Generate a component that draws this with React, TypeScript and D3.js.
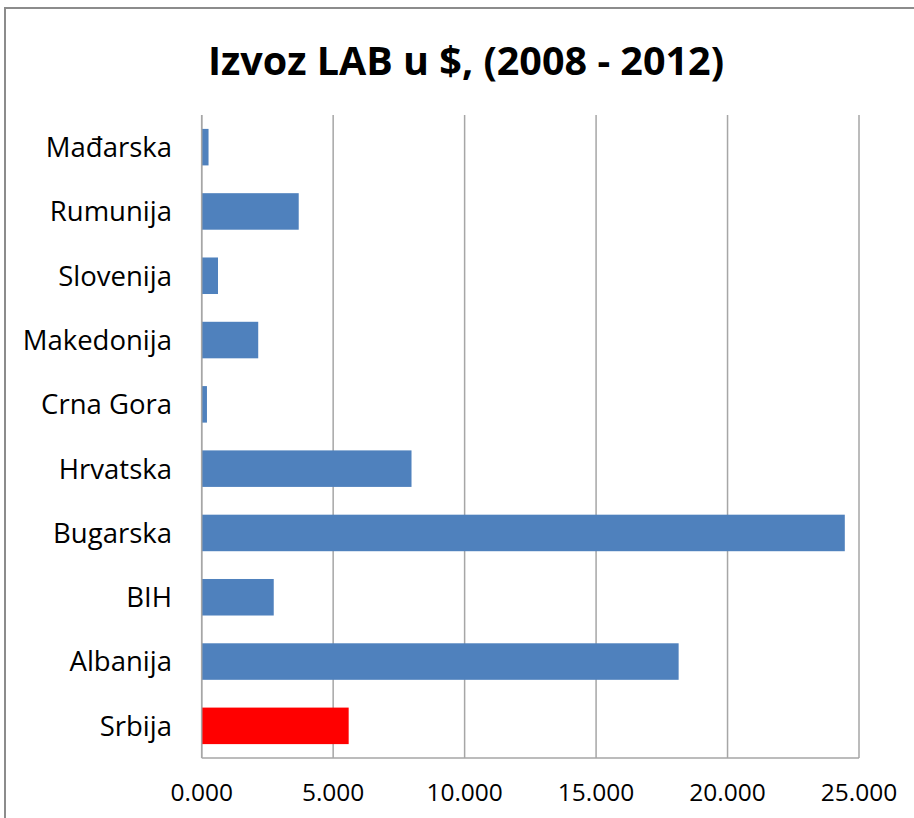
import React from "react";
import * as d3 from "d3";

const categories = ["Mađarska", "Rumunija", "Slovenija", "Makedonija", "Crna Gora", "Hrvatska", "Bugarska", "BIH", "Albanija", "Srbija"];
const values = [260, 3690, 620, 2150, 200, 7980, 24460, 2740, 18140, 5590];
const highlight = ["Srbija"];
const ticks = [0, 5000, 10000, 15000, 20000, 25000];
const tickLabels = ["0.000", "5.000", "10.000", "15.000", "20.000", "25.000"];
const title = "Izvoz LAB u $, (2008 - 2012)";

export default function App() {
  const W = 914, H = 818;
  const left = 201.7, right = 859, top = 115, bottom = 758;
  const x = d3.scaleLinear().domain([0, 25000]).range([left, right]);
  const y = d3.scaleBand<string>().domain(categories).range([top, bottom]).paddingInner(0.432).paddingOuter(0.216);
  const font = "'Open Sans', sans-serif";
  return (
    <svg width={W} height={H} style={{ position: "absolute", left: 0, top: 0, background: "#fff" }}>
      <rect x={0} y={0} width={W} height={H} fill="#fff" />
      <rect x={5} y={8} width={940} height={840} fill="none" stroke="#8c8c8c" strokeWidth={2} />
      <text x={466} y={75} textAnchor="middle" fontFamily={font} fontWeight={700} fontSize={39.5} fill="#000">{title}</text>
      {ticks.map((t, i) => (
        <line key={"g" + i} x1={x(t)} x2={x(t)} y1={top} y2={bottom} stroke="#a6a6a6" strokeWidth={1.5} />
      ))}
      <line x1={left} x2={right} y1={bottom} y2={bottom} stroke="#a6a6a6" strokeWidth={1.5} />
      {categories.map((c, i) => (
        <rect key={"b" + i} x={x(0)} y={y(c)!} width={x(values[i]) - x(0)} height={y.bandwidth()}
          fill={highlight.includes(c) ? "#ff0000" : "#4f81bd"} />
      ))}
      <line x1={left} x2={left} y1={top} y2={bottom} stroke="#a6a6a6" strokeWidth={1.5} />
      {categories.map((c, i) => (
        <text key={"l" + i} x={172} y={y(c)! + y.bandwidth() / 2} dy="0.36em" textAnchor="end"
          fontFamily={font} fontSize={27.5} fill="#000">{c}</text>
      ))}
      {ticks.map((t, i) => (
        <text key={"t" + i} x={x(t)} y={801} textAnchor="middle" fontFamily={font} fontSize={24.5} fill="#000">{tickLabels[i]}</text>
      ))}
    </svg>
  );
}
